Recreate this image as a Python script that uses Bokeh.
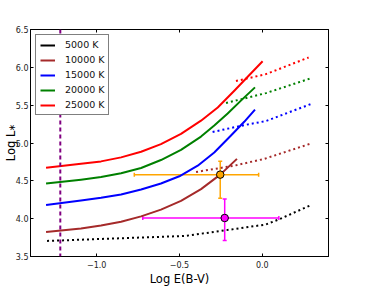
from bokeh.plotting import figure
from bokeh.models import (Span, Whisker, TeeHead, ColumnDataSource, Legend, LegendItem,
                          LinearAxis, FixedTicker, Range1d)
from bokeh.embed import file_html
from bokeh.resources import INLINE

# ---------------- data ----------------
temps = ["5000 K", "10000 K", "15000 K", "20000 K", "25000 K"]
colors = ["black", "#A52A2A", "#0000FF", "#008000", "#FF0000"]

# solid curves; the 5000 K solid curve lies outside the plotted range
solid_x_5000 = [float("nan")]
solid_y_5000 = [float("nan")]
solid_x_10000 = [-1.306, -1.095, -0.974, -0.853, -0.732, -0.612, -0.491, -0.370, -0.254, -0.153]
solid_y_10000 = [3.823, 3.87, 3.91, 3.96, 4.03, 4.12, 4.235, 4.39, 4.582, 4.79]
solid_x_15000 = [-1.306, -1.095, -0.974, -0.853, -0.732, -0.612, -0.501, -0.390, -0.290, -0.189, -0.109, -0.044]
solid_y_15000 = [4.18, 4.24, 4.275, 4.32, 4.385, 4.465, 4.56, 4.70, 4.875, 5.10, 5.28, 5.441]
solid_x_20000 = [-1.306, -1.095, -0.974, -0.853, -0.732, -0.612, -0.491, -0.370, -0.290, -0.209, -0.129, -0.044]
solid_y_20000 = [4.464, 4.515, 4.55, 4.60, 4.67, 4.775, 4.91, 5.085, 5.23, 5.39, 5.56, 5.735]
solid_x_25000 = [-1.306, -1.095, -0.974, -0.853, -0.732, -0.612, -0.491, -0.370, -0.269, -0.169, -0.088, 0.002]
solid_y_25000 = [4.673, 4.725, 4.757, 4.81, 4.885, 4.985, 5.12, 5.295, 5.47, 5.69, 5.875, 6.08]

# dotted curves
dot_x_5000 = [-1.3, -0.47, -0.34, 0.02, 0.10, 0.29]
dot_y_5000 = [3.706, 3.771, 3.81, 3.922, 3.99, 4.175]
dot_x_10000 = [-0.40, -0.17, 0.012, 0.29]
dot_y_10000 = [4.617, 4.70, 4.79, 4.99]
dot_x_15000 = [-0.30, -0.10, 0.022, 0.30]
dot_y_15000 = [5.146, 5.24, 5.29, 5.52]
dot_x_20000 = [-0.219, 0.022, 0.30]
dot_y_20000 = [5.529, 5.659, 5.86]
dot_x_25000 = [-0.159, 0.022, 0.28]
dot_y_25000 = [5.819, 5.91, 6.13]

vline_x = -1.22

# observed points with error bars
pt_x = [-0.254, -0.227]
pt_y = [4.582, 4.009]
pt_x_lo = [-0.773, -0.722]
pt_x_hi = [-0.022, 0.10]
pt_y_lo = [4.27, 3.71]
pt_y_hi = [4.76, 4.26]
pt_colors = ["#FFA500", "#FF00FF"]

x_ticks = [-1.0, -0.5, 0.0]
x_tick_labels = ["\u22121.0", "\u22120.5", "0.0"]
y_ticks = [3.5, 4.0, 4.5, 5.0, 5.5, 6.0, 6.5]
y_tick_labels = ["3.5", "4.0", "4.5", "5.0", "5.5", "6.0", "6.5"]

FONT = "DejaVu Sans"

# ---------------- figure ----------------
p = figure(width=342, height=288, x_range=Range1d(-1.4, 0.4), y_range=Range1d(3.5, 6.5),
           output_backend="svg", toolbar_location=None,
           min_border_left=29, min_border_right=14, min_border_top=29, min_border_bottom=29)
p.xgrid.visible = False
p.ygrid.visible = False
p.outline_line_color = "black"
p.outline_line_width = 1
p.background_fill_color = "white"
p.border_fill_color = "white"

ax_bottom = p.below[0]
ax_left = p.left[0]


def style_axis(ax, ticks, labels, show_labels):
    ax.ticker = FixedTicker(ticks=ticks)
    ax.major_tick_in = 3
    ax.major_tick_out = 0
    ax.minor_tick_line_color = None
    ax.major_tick_line_color = "black"
    ax.axis_line_color = "black"
    ax.major_label_text_font = FONT
    ax.major_label_text_color = "#222222"
    ax.major_label_text_font_size = "8px"
    if show_labels:
        ax.major_label_overrides = {t: l for t, l in zip(ticks, labels)}
        ax.major_label_standoff = 2
    else:
        ax.major_label_overrides = {t: "" for t in ticks}
        ax.major_label_standoff = 0


style_axis(ax_bottom, x_ticks, x_tick_labels, True)
style_axis(ax_left, y_ticks, y_tick_labels, True)
ax_top = LinearAxis()
style_axis(ax_top, x_ticks, x_tick_labels, False)
p.add_layout(ax_top, "above")
ax_right = LinearAxis()
style_axis(ax_right, y_ticks, y_tick_labels, False)
p.add_layout(ax_right, "right")

ax_bottom.major_label_standoff = 4
ax_bottom.axis_label = "Log E(B-V)"
ax_left.axis_label = "Log L\u204e"
for ax in (ax_bottom, ax_left):
    ax.axis_label_text_font = FONT
    ax.axis_label_text_font_style = "normal"
    ax.axis_label_text_color = "black"
ax_bottom.axis_label_standoff = 1
ax_left.axis_label_standoff = -5
ax_bottom.axis_label_text_font_size = "11.5px"
ax_left.axis_label_text_font_size = "11.5px"

solid = [(solid_x_5000, solid_y_5000), (solid_x_10000, solid_y_10000),
         (solid_x_15000, solid_y_15000), (solid_x_20000, solid_y_20000),
         (solid_x_25000, solid_y_25000)]
dots = [(dot_x_5000, dot_y_5000), (dot_x_10000, dot_y_10000),
        (dot_x_15000, dot_y_15000), (dot_x_20000, dot_y_20000),
        (dot_x_25000, dot_y_25000)]

items = []
for (sx, sy), (dx, dy), c, t in zip(solid, dots, colors, temps):
    r = p.line(sx, sy, line_color=c, line_width=2, line_join="round")
    p.line(dx, dy, line_color=c, line_width=2, line_dash="2 3")
    items.append(LegendItem(label=t, renderers=[r]))

p.add_layout(Span(location=vline_x, dimension="height", line_color="purple",
                  line_width=2, line_dash="4 3"))

for i in range(len(pt_x)):
    c = pt_colors[i]
    src = ColumnDataSource(dict(x=[pt_x[i]], y=[pt_y[i]], xlo=[pt_x_lo[i]], xhi=[pt_x_hi[i]],
                                ylo=[pt_y_lo[i]], yhi=[pt_y_hi[i]]))
    p.add_layout(Whisker(base="y", lower="xlo", upper="xhi", dimension="width", source=src,
                         line_color=c, line_width=1.5,
                         lower_head=TeeHead(size=4, line_color=c, line_width=1.5),
                         upper_head=TeeHead(size=4, line_color=c, line_width=1.5)))
    p.add_layout(Whisker(base="x", lower="ylo", upper="yhi", dimension="height", source=src,
                         line_color=c, line_width=1.5,
                         lower_head=TeeHead(size=4, line_color=c, line_width=1.5),
                         upper_head=TeeHead(size=4, line_color=c, line_width=1.5)))
    p.scatter("x", "y", source=src, size=7.5, fill_color=c, line_color="black", line_width=1)

legend = Legend(items=items, location="top_left")
legend.label_text_font = FONT
legend.label_text_font_size = "9.5px"
legend.label_text_color = "#111111"
legend.glyph_width = 15
legend.glyph_height = 10
legend.label_height = 10
legend.label_standoff = 10
legend.spacing = 4
legend.padding = 4
legend.margin = 5
legend.border_line_color = "black"
legend.border_line_width = 1
legend.background_fill_alpha = 1.0
p.add_layout(legend)

open("out.html", "w").write(file_html(p, INLINE))
